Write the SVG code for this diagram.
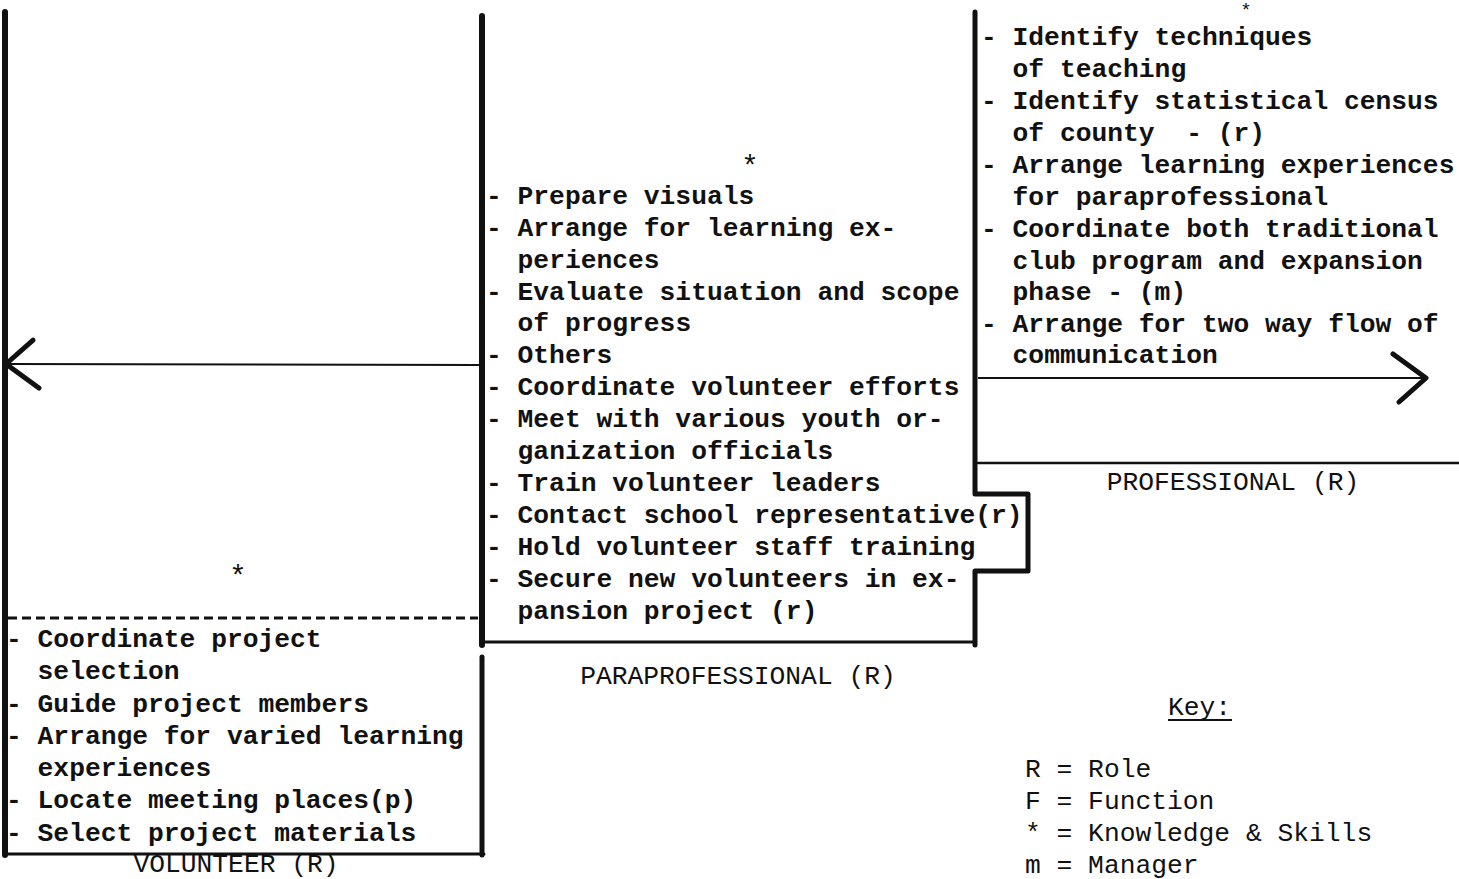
<svg xmlns="http://www.w3.org/2000/svg" width="1459" height="879" viewBox="0 0 1459 879">
<defs>
<style>
.t{font-family:"Liberation Mono","DejaVu Sans Mono",monospace;font-size:26.3px;font-weight:bold;fill:#111}
.l{font-family:"Liberation Mono","DejaVu Sans Mono",monospace;font-size:26.3px;fill:#111}
.s{font-family:"Liberation Mono","DejaVu Sans Mono",monospace;font-size:26.3px;fill:#111;text-anchor:middle}
.st{font-family:"Liberation Mono","DejaVu Sans Mono",monospace;font-size:29px;fill:#111;text-anchor:middle}
.b{fill:none;stroke:#111;stroke-linecap:round;stroke-linejoin:round}
.c{fill:none;stroke:#111;stroke-width:2}
</style>
<marker id="chev" viewBox="-40 -30 46 60" refX="0" refY="0" markerWidth="46" markerHeight="60" markerUnits="userSpaceOnUse" orient="auto">
<path d="M -33 -24 L 0 0 L -27 24" fill="none" stroke="#111" stroke-width="5" stroke-linecap="round" stroke-linejoin="round"/>
</marker>
</defs>
<rect width="1459" height="879" fill="#fff"/>

<g id="connectors">
<line class="c" x1="479" y1="365" x2="6" y2="364" marker-end="url(#chev)"/>
<line class="c" x1="978" y1="378" x2="1426" y2="378" marker-end="url(#chev)"/>
</g>

<g id="volunteer">
<path class="b" d="M5 12 L5 855" stroke-width="6"/>
<path class="b" d="M5 854 L484 854" stroke-width="3"/>
<path class="b" d="M482 657 L482 855" stroke-width="5"/>
<line x1="8" y1="618" x2="478" y2="618" stroke="#111" stroke-width="3" stroke-dasharray="9 5"/>
<text class="st" x="238" y="586">*</text>
<text class="t" x="6" y="647">- Coordinate project</text>
<text class="t" x="37.6" y="679">selection</text>
<text class="t" x="6" y="712">- Guide project members</text>
<text class="t" x="6" y="744">- Arrange for varied learning</text>
<text class="t" x="37.6" y="776">experiences</text>
<text class="t" x="6" y="808">- Locate meeting places(p)</text>
<text class="t" x="6" y="841">- Select project materials</text>
<text class="s" x="236" y="872">VOLUNTEER (R)</text>
</g>

<g id="paraprofessional">
<path class="b" d="M482 16 L482 645" stroke-width="6"/>
<path class="b" d="M482 642 L975 642" stroke-width="3"/>
<path class="b" d="M975 12 L975 494 L1028 494 L1028 571 L975 571 L975 645" stroke-width="5"/>
<text class="st" x="750" y="176">*</text>
<text class="t" x="486" y="204">- Prepare visuals</text>
<text class="t" x="486" y="236">- Arrange for learning ex-</text>
<text class="t" x="517.6" y="268">periences</text>
<text class="t" x="486" y="300">- Evaluate situation and scope</text>
<text class="t" x="517.6" y="331">of progress</text>
<text class="t" x="486" y="363">- Others</text>
<text class="t" x="486" y="395">- Coordinate volunteer efforts</text>
<text class="t" x="486" y="427">- Meet with various youth or-</text>
<text class="t" x="517.6" y="459">ganization officials</text>
<text class="t" x="486" y="491">- Train volunteer leaders</text>
<text class="t" x="486" y="523">- Contact school representative(r)</text>
<text class="t" x="486" y="555">- Hold volunteer staff training</text>
<text class="t" x="486" y="587">- Secure new volunteers in ex-</text>
<text class="t" x="517.6" y="619">pansion project (r)</text>
<text class="s" x="738" y="684">PARAPROFESSIONAL (R)</text>
</g>

<g id="professional">
<path class="b" d="M978 463 L1459 463" stroke-width="2.5"/>
<text x="1246" y="16" font-family="Liberation Mono, DejaVu Sans Mono, monospace" font-size="19" fill="#111" text-anchor="middle">*</text>
<text class="t" x="981" y="45">- Identify techniques</text>
<text class="t" x="1012.6" y="77">of teaching</text>
<text class="t" x="981" y="109">- Identify statistical census</text>
<text class="t" x="1012.6" y="141" xml:space="preserve">of county  - (r)</text>
<text class="t" x="981" y="173">- Arrange learning experiences</text>
<text class="t" x="1012.6" y="205">for paraprofessional</text>
<text class="t" x="981" y="237">- Coordinate both traditional</text>
<text class="t" x="1012.6" y="269">club program and expansion</text>
<text class="t" x="1012.6" y="300">phase - (m)</text>
<text class="t" x="981" y="332">- Arrange for two way flow of</text>
<text class="t" x="1012.6" y="363">communication</text>
<text class="s" x="1233" y="490">PROFESSIONAL (R)</text>
</g>

<g id="key">
<text class="l" x="1168" y="715">Key:</text>
<line x1="1168" y1="720" x2="1232" y2="720" stroke="#111" stroke-width="2"/>
<text class="l" x="1025" y="777">R = Role</text>
<text class="l" x="1025" y="809">F = Function</text>
<text class="l" x="1025" y="841">* = Knowledge &amp; Skills</text>
<text class="l" x="1025" y="873">m = Manager</text>
</g>
</svg>
